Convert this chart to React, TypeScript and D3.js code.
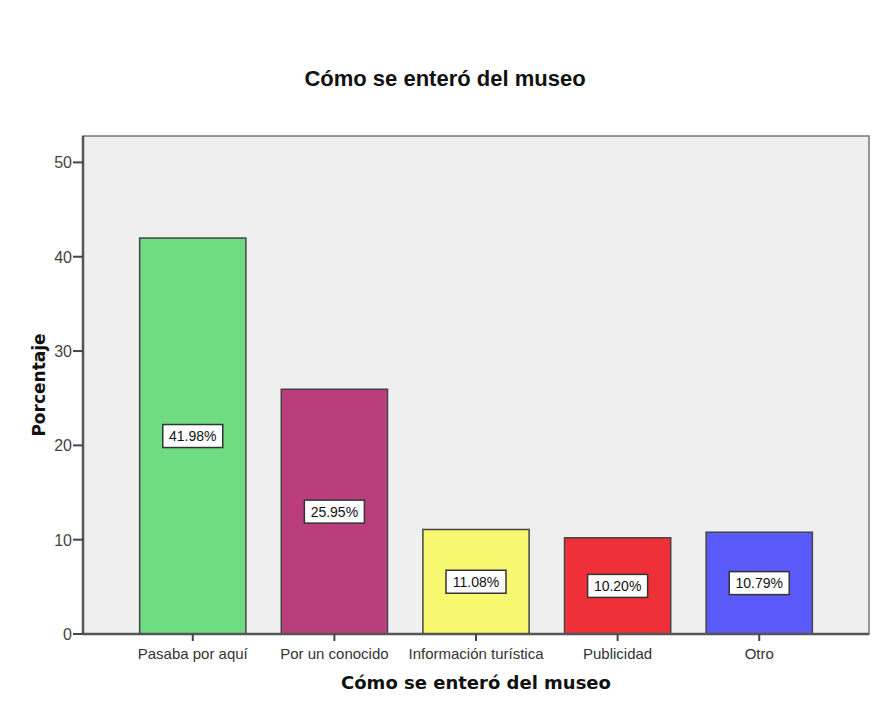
import React from "react";
import * as d3 from "d3";

const categories = ["Pasaba por aquí", "Por un conocido", "Información turística", "Publicidad", "Otro"];
const percentages = [41.98, 25.95, 11.08, 10.2, 10.79];
const barColors = ["#6fdc82", "#ba3e7c", "#f8f870", "#f03038", "#5a5afa"];
const yTicks = [0, 10, 20, 30, 40, 50];

const W = 878;
const H = 702;
const plot = { left: 83, right: 869, top: 136, bottom: 634 };

export default function App() {
  const y = d3.scaleLinear().domain([0, 52.8]).range([plot.bottom, plot.top]);
  const x = d3
    .scaleBand<string>()
    .domain(categories)
    .range([plot.left, plot.right])
    .paddingInner(0.25)
    .paddingOuter(0.4);
  const bw = x.bandwidth();
  const font = "'Liberation Sans', Arial, sans-serif";
  const boldFont = "'DejaVu Sans', Verdana, sans-serif";

  return (
    <svg width={W} height={H} style={{ display: "block", position: "absolute", left: 0, top: 0 }}>
      <rect x={0} y={0} width={W} height={H} fill="#ffffff" />
      <text x={445} y={86} textAnchor="middle" fontFamily={font} fontWeight="bold" fontSize={22} fill="#111">
        Cómo se enteró del museo
      </text>
      {/* plot background with top/right frame */}
      <rect x={plot.left} y={plot.top} width={plot.right - plot.left} height={plot.bottom - plot.top} fill="#efefef" stroke="#777" strokeWidth={1.5} />
      {/* bars */}
      {categories.map((c, i) => (
        <rect
          key={c}
          x={x(c)}
          y={y(percentages[i])}
          width={bw}
          height={y(0) - y(percentages[i])}
          fill={barColors[i]}
          stroke="#444"
          strokeWidth={1.5}
        />
      ))}
      {/* value labels */}
      {categories.map((c, i) => {
        const cx = (x(c) as number) + bw / 2;
        const cy = y(percentages[i] / 2);
        const label = percentages[i].toFixed(2) + "%";
        const bwid = 60;
        const bh = 23;
        return (
          <g key={"l" + c}>
            <rect x={cx - bwid / 2} y={cy - bh / 2} width={bwid} height={bh} fill="#ffffff" stroke="#333" strokeWidth={1.5} />
            <text x={cx} y={cy + 5} textAnchor="middle" fontFamily={font} fontSize={14} fill="#111">
              {label}
            </text>
          </g>
        );
      })}
      {/* y axis */}
      <line x1={plot.left} x2={plot.left} y1={plot.top} y2={plot.bottom} stroke="#555" strokeWidth={2.5} />
      {yTicks.map((t) => (
        <g key={t}>
          <line x1={plot.left - 10} x2={plot.left} y1={y(t)} y2={y(t)} stroke="#444" strokeWidth={2} />
          <text x={plot.left - 11} y={y(t) + 6} textAnchor="end" fontFamily={font} fontSize={16} fill="#444">
            {t}
          </text>
        </g>
      ))}
      {/* x axis */}
      <line x1={plot.left} x2={plot.right} y1={plot.bottom} y2={plot.bottom} stroke="#555" strokeWidth={2.5} />
      {categories.map((c) => {
        const cx = (x(c) as number) + bw / 2;
        return (
          <g key={"t" + c}>
            <line x1={cx} x2={cx} y1={plot.bottom} y2={plot.bottom + 7} stroke="#444" strokeWidth={2} />
            <text x={cx} y={plot.bottom + 25} textAnchor="middle" fontFamily={font} fontSize={15} fill="#333">
              {c}
            </text>
          </g>
        );
      })}
      <text x={(plot.left + plot.right) / 2} y={689} textAnchor="middle" fontFamily={boldFont} fontWeight="bold" fontSize={18} fill="#111">
        Cómo se enteró del museo
      </text>
      <text
        transform={`translate(45, ${(plot.top + plot.bottom) / 2}) rotate(-90)`}
        textAnchor="middle"
        fontFamily={boldFont}
        fontWeight="bold"
        fontSize={17}
        fill="#111"
      >
        Porcentaje
      </text>
    </svg>
  );
}
